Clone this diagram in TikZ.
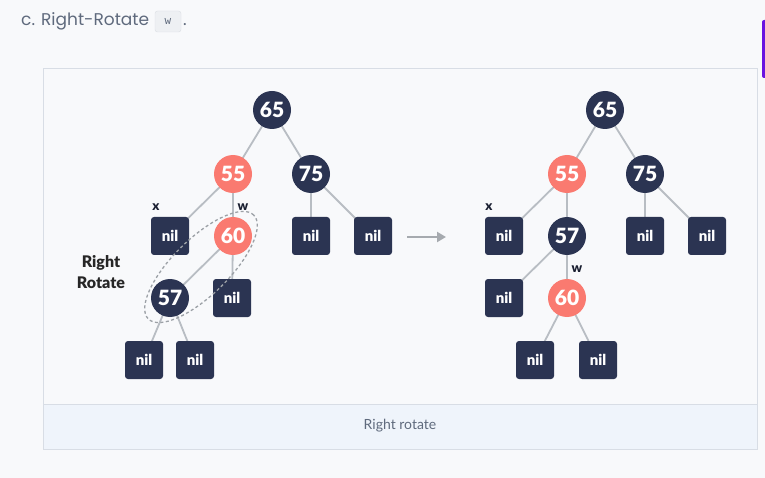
\documentclass[tikz,border=0pt]{standalone}
\usepackage{fontspec}
\setmainfont{Lato}
\newfontfamily\heavyfont{Lato Black}
\newfontfamily\titlefont{Poppins}
\newfontfamily\codefont{DejaVu Sans Mono}
\usetikzlibrary{arrows.meta,shapes.geometric}
\pgfdeclarelayer{bglayer}
\pgfdeclarelayer{edgelayer}
\pgfsetlayers{bglayer,edgelayer,main}
\definecolor{bgc}{HTML}{F8F9FB}
\definecolor{panelborder}{HTML}{D8DDE5}
\definecolor{capband}{HTML}{EFF4FB}
\definecolor{navy}{HTML}{2B3452}
\definecolor{salmon}{HTML}{FA7A70}
\definecolor{edgegray}{HTML}{B8BDC3}
\definecolor{titlegray}{HTML}{5F6A7D}
\definecolor{codebg}{HTML}{EEF0F3}
\definecolor{codeborder}{HTML}{DADEE4}
\definecolor{purplebar}{HTML}{6A12E0}
\tikzset{
  blk/.style={circle,fill=navy,text=white,minimum size=38pt,inner sep=0pt,font=\heavyfont\fontsize{21}{22}\selectfont},
  rednode/.style={circle,fill=salmon,text=white,minimum size=38pt,inner sep=0pt,font=\heavyfont\fontsize{21}{22}\selectfont},
  nilbox/.style={rectangle,rounded corners=3pt,fill=navy,text=white,minimum size=38pt,inner sep=0pt,font=\heavyfont\fontsize{15}{16}\selectfont},
  edge/.style={draw=edgegray,line width=1.8pt},
  lbl/.style={font=\heavyfont\fontsize{13}{14}\selectfont,text=navy!60!black,inner sep=0pt},
}
\begin{document}
\begin{tikzpicture}[x=1pt,y=-1pt]
\useasboundingbox (0,0) rectangle (765,478);
\begin{pgfonlayer}{bglayer}
\fill[bgc] (0,0) rectangle (765,478);
\fill[purplebar,rounded corners=2pt] (762,20) rectangle (770,78);
\draw[draw=panelborder,fill=bgc,line width=0.8pt] (43,68) rectangle (757,449);
\draw[draw=panelborder,fill=capband,line width=0.8pt] (43,404) rectangle (757,449);
\end{pgfonlayer}
% title
\node[anchor=base west,inner sep=0pt,text=titlegray,font=\titlefont\fontsize{17}{18}\selectfont] (title) at (21,26) {c. Right-Rotate};
\node[draw=codeborder,fill=codebg,rounded corners=2.5pt,minimum width=26pt,minimum height=21pt,inner sep=0pt,text=titlegray,font=\codefont\fontsize{11}{12}\selectfont] (code) at (168,21.5) {w};
\node[anchor=base west,inner sep=0pt,text=titlegray,font=\titlefont\fontsize{17}{18}\selectfont] (dot) at (183,26) {.};
\node[text=titlegray,font=\fontsize{14}{15}\selectfont] (cap) at (400,426) {Right rotate};

% left tree nodes
\node[blk] (a65) at (272,110) {65};
\node[rednode] (a55) at (233,174) {55};
\node[blk] (a75) at (311,174) {75};
\node[nilbox] (anx) at (170,236) {nil};
\node[rednode] (a60) at (233,236) {60};
\node[nilbox] (an75l) at (311,236) {nil};
\node[nilbox] (an75r) at (373,236) {nil};
\node[blk] (a57) at (170,298) {57};
\node[nilbox] (an60r) at (232,298) {nil};
\node[nilbox] (an57l) at (144,360) {nil};
\node[nilbox] (an57r) at (195,360) {nil};
\begin{pgfonlayer}{edgelayer}
\path[edge] (a65.center) -- (a55.center);
\path[edge] (a65.center) -- (a75.center);
\path[edge] (a55.center) -- (anx.center);
\path[edge] (a55.center) -- (a60.center);
\path[edge] (a75.center) -- (an75l.center);
\path[edge] (a75.center) -- (an75r.center);
\path[edge] (a60.center) -- (a57.center);
\path[edge] (a60.center) -- (an60r.center);
\path[edge] (a57.center) -- (an57l.center);
\path[edge] (a57.center) -- (an57r.center);
\end{pgfonlayer}
\node[lbl] (lx) at (156,207) {x};
\node[lbl] (lw) at (243,207) {w};
\node[align=center,font=\heavyfont\fontsize{16}{21}\selectfont,text=black!85,inner sep=0pt] (rr) at (101,272) {Right\\Rotate};
\node[draw=edgegray!85!black,dash pattern=on 3pt off 2.5pt,line width=1.3pt,ellipse,minimum width=148pt,minimum height=56pt,rotate=44.5] (sel) at (201,267) {};

% arrow
\coordinate (arS) at (407,237);
\coordinate (arE) at (446,237);
\draw[draw=edgegray!90!black,line width=2pt,-{Triangle[length=9pt,width=10pt]}] (arS) -- (arE);

% right tree nodes
\node[blk] (b65) at (605,110) {65};
\node[rednode] (b55) at (567,174) {55};
\node[blk] (b75) at (645,174) {75};
\node[nilbox] (bnx) at (504,236) {nil};
\node[blk] (b57) at (567,236) {57};
\node[nilbox] (bn75l) at (645,236) {nil};
\node[nilbox] (bn75r) at (707,236) {nil};
\node[nilbox] (bn57l) at (504,298) {nil};
\node[rednode] (b60) at (567,298) {60};
\node[nilbox] (bn60l) at (535,360) {nil};
\node[nilbox] (bn60r) at (598,360) {nil};
\begin{pgfonlayer}{edgelayer}
\path[edge] (b65.center) -- (b55.center);
\path[edge] (b65.center) -- (b75.center);
\path[edge] (b55.center) -- (bnx.center);
\path[edge] (b55.center) -- (b57.center);
\path[edge] (b75.center) -- (bn75l.center);
\path[edge] (b75.center) -- (bn75r.center);
\path[edge] (b57.center) -- (bn57l.center);
\path[edge] (b57.center) -- (b60.center);
\path[edge] (b60.center) -- (bn60l.center);
\path[edge] (b60.center) -- (bn60r.center);
\end{pgfonlayer}
\node[lbl] (rx) at (489,207) {x};
\node[lbl] (rw) at (577,269) {w};
\end{tikzpicture}
\end{document}
